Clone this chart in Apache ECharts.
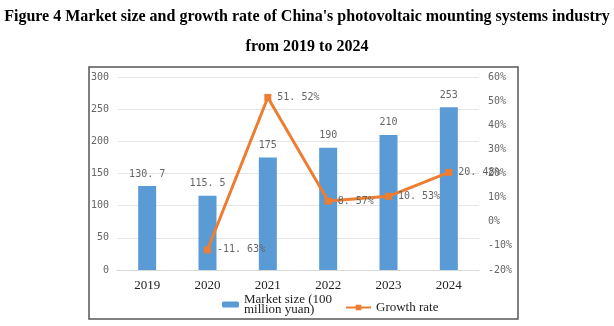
<!DOCTYPE html>
<html><head><meta charset="utf-8">
<script src="https://cdn.jsdelivr.net/npm/echarts@6/dist/echarts.min.js"></script>
<style>html,body{margin:0;padding:0;background:#fff}#c{width:614px;height:326px}</style>
</head><body><div id="c"></div>
<script>
const categories = ['2019','2020','2021','2022','2023','2024'];
const marketSize = [130.7, 115.5, 175, 190, 210, 253];
const growthRate = [null, -11.63, 51.52, 8.57, 10.53, 20.48];
const leftTicks = {min: 0, max: 300, interval: 50};
const rightTicks = {min: -20, max: 60, interval: 10};
const barName = 'Market size (100\nmillion yuan)';
const lineName = 'Growth rate';

const chart = echarts.init(document.getElementById('c'));
const fmtNum = v => String(v).replace('.', '. ');
const tickFont = {color: '#666', fontSize: 10, fontFamily: 'DejaVu Sans Mono'};
chart.setOption({
  animation: false,
  title: {
    text: "Figure 4 Market size and growth rate of China's photovoltaic mounting systems industry\nfrom 2019 to 2024",
    left: 'center', top: -3,
    textStyle: {fontFamily: 'Liberation Serif', fontWeight: 'bold', fontSize: 16, color: '#000', lineHeight: 30}
  },
  graphic: [{
    type: 'rect', shape: {x: 89, y: 67, width: 429, height: 252},
    style: {fill: 'none', stroke: '#555', lineWidth: 1.5}
  }],
  grid: {left: 117, right: 135, top: 77, bottom: 56},
  legend: [{
    data: [barName], left: 217, top: 288, itemWidth: 17, itemHeight: 6, itemGap: 10,
    textStyle: {fontFamily: 'Liberation Serif', fontSize: 13, color: '#222', lineHeight: 10}
  }, {
    data: [lineName], left: 340, top: 296, itemWidth: 25, itemHeight: 7,
    textStyle: {fontFamily: 'Liberation Serif', fontSize: 13, color: '#222'}
  }],
  xAxis: {
    type: 'category', data: categories,
    axisLine: {lineStyle: {color: '#d9d9d9'}}, axisTick: {show: false},
    axisLabel: {fontFamily: 'Liberation Serif', fontSize: 13, color: '#222', margin: 9}
  },
  yAxis: [{
    type: 'value', ...leftTicks,
    axisLine: {show: false}, axisTick: {show: false},
    splitLine: {lineStyle: {color: '#e6e6e6'}},
    axisLabel: {...tickFont, margin: 8}
  }, {
    type: 'value', ...rightTicks, position: 'right',
    axisLine: {show: false}, axisTick: {show: false}, splitLine: {show: false},
    axisLabel: {...tickFont, margin: 9, formatter: '{value}%'}
  }],
  series: [{
    name: barName, type: 'bar', data: marketSize, barWidth: 18,
    itemStyle: {color: '#5B9BD5'},
    label: {show: true, position: 'top', distance: 7, ...tickFont, fontSize: 10,
      formatter: p => fmtNum(p.value)}
  }, {
    name: lineName, type: 'line', yAxisIndex: 1, data: growthRate,
    connectNulls: false,
    lineStyle: {color: '#ED7D31', width: 3},
    itemStyle: {color: '#ED7D31'},
    symbol: 'rect', symbolSize: 7, showAllSymbol: true,
    label: {show: true, position: 'right', distance: 6, ...tickFont, fontSize: 10,
      formatter: p => fmtNum(p.value) + '%'}
  }]
});
</script></body></html>
